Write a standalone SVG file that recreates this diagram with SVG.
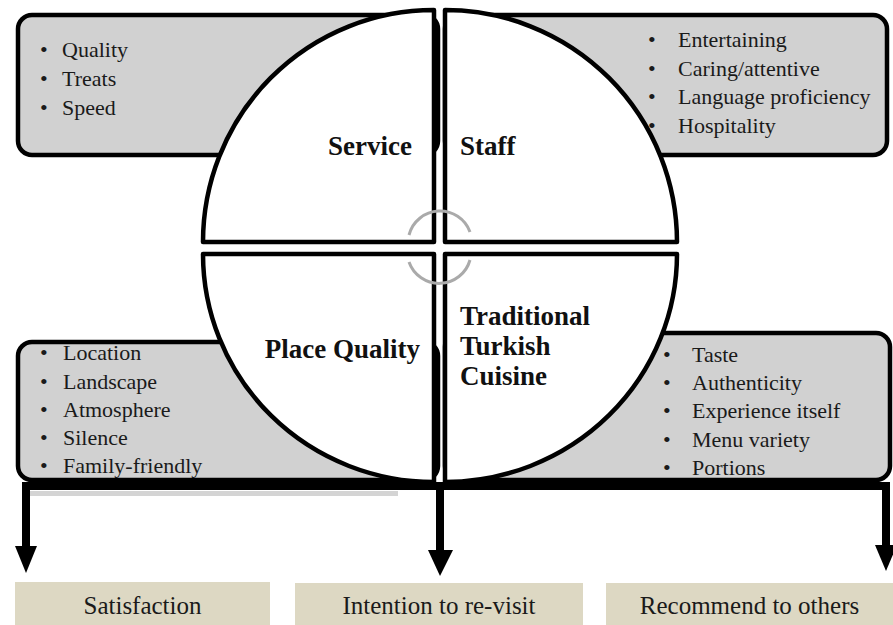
<svg xmlns="http://www.w3.org/2000/svg" width="893" height="625" viewBox="0 0 893 625">
<style>
.box{fill:#d1d1d1;stroke:#000;stroke-width:4.5}
.quad{fill:#fff;stroke:#000;stroke-width:4.5;stroke-linejoin:round}
.li{font-family:'Liberation Serif','DejaVu Serif',serif;font-size:22px;fill:#1a1a1a}
.lbl{font-family:'Liberation Serif','DejaVu Serif',serif;font-size:27px;font-weight:bold;fill:#111}
.out{fill:#ddd8c3}
.ot{font-family:'Liberation Serif','DejaVu Serif',serif;font-size:25px;fill:#1a1a1a;text-anchor:middle}
.cyc{fill:none;stroke:#aaa;stroke-width:3}
.conn{stroke:#000;stroke-width:8;fill:none}
</style>
<rect width="893" height="625" fill="#fff"/>
<g id="box-service">
<rect class="box" x="18" y="15" width="420" height="140" rx="14"/>
<text class="li"><tspan x="40" y="57">•</tspan><tspan x="62" y="57">Quality</tspan><tspan x="40" y="86">•</tspan><tspan x="62" y="86">Treats</tspan><tspan x="40" y="115">•</tspan><tspan x="62" y="115">Speed</tspan></text>
</g>
<g id="box-staff">
<rect class="box" x="445" y="15" width="442" height="140" rx="14"/>
<text class="li"><tspan x="648" y="47">•</tspan><tspan x="678" y="47">Entertaining</tspan><tspan x="648" y="76">•</tspan><tspan x="678" y="76">Caring/attentive</tspan><tspan x="648" y="104">•</tspan><tspan x="678" y="104">Language proficiency</tspan><tspan x="648" y="133">•</tspan><tspan x="678" y="133">Hospitality</tspan></text>
</g>
<g id="box-place">
<rect class="box" x="18" y="342" width="420" height="138" rx="14"/>
<text class="li"><tspan x="40" y="360">•</tspan><tspan x="63" y="360">Location</tspan><tspan x="40" y="389">•</tspan><tspan x="63" y="389">Landscape</tspan><tspan x="40" y="417">•</tspan><tspan x="63" y="417">Atmosphere</tspan><tspan x="40" y="445">•</tspan><tspan x="63" y="445">Silence</tspan><tspan x="40" y="473">•</tspan><tspan x="63" y="473">Family-friendly</tspan></text>
</g>
<g id="box-cuisine">
<rect class="box" x="445" y="333" width="445" height="147" rx="14"/>
<text class="li"><tspan x="663" y="362">•</tspan><tspan x="692" y="362">Taste</tspan><tspan x="663" y="390">•</tspan><tspan x="692" y="390">Authenticity</tspan><tspan x="663" y="418">•</tspan><tspan x="692" y="418">Experience itself</tspan><tspan x="663" y="447">•</tspan><tspan x="692" y="447">Menu variety</tspan><tspan x="663" y="475">•</tspan><tspan x="692" y="475">Portions</tspan></text>
</g>
<g id="connectors">
<rect x="22" y="491" width="376" height="5" fill="#d4d4d4"/>
<path class="conn" d="M22 486 H890"/>
<path class="conn" d="M26 484 V550"/>
<polygon points="15,546 37,546 26,573"/>
<path class="conn" d="M440 484 V553"/>
<polygon points="428,550 453,550 440,576"/>
<path class="conn" d="M886 484 V548"/>
<polygon points="875,545 897,545 886,571"/>
</g>
<g id="q-service">
<path class="quad" d="M434 242 L203 242 A231 232 0 0 1 434 10 Z"/>
<text class="lbl" x="412" y="155" text-anchor="end">Service</text>
</g>
<g id="q-staff">
<path class="quad" d="M445 242 L445 10 A232 232 0 0 1 677 242 Z"/>
<text class="lbl" x="460" y="155">Staff</text>
</g>
<g id="q-place">
<path class="quad" d="M434 254 L203 254 A231 228 0 0 0 434 482 Z"/>
<text class="lbl" x="420" y="358" text-anchor="end">Place Quality</text>
</g>
<g id="q-cuisine">
<path class="quad" d="M445 254 L677 254 A232 228 0 0 1 445 482 Z"/>
<text class="lbl"><tspan x="460" y="325">Traditional</tspan><tspan x="460" y="355">Turkish</tspan><tspan x="460" y="385">Cuisine</tspan></text>
</g>
<g id="cycle">
<path class="cyc" d="M409 235 A32 32 0 0 1 470 232"/>
<path class="cyc" d="M409 262 A32 32 0 0 0 470 260"/>
</g>
<g id="out-satisfaction">
<rect class="out" x="15" y="582" width="255" height="43"/>
<text class="ot" x="142.5" y="614">Satisfaction</text>
</g>
<g id="out-revisit">
<rect class="out" x="295" y="583" width="288" height="42"/>
<text class="ot" x="439" y="614">Intention to re-visit</text>
</g>
<g id="out-recommend">
<rect class="out" x="606" y="583" width="287" height="42"/>
<text class="ot" x="749.5" y="614">Recommend to others</text>
</g>
</svg>
